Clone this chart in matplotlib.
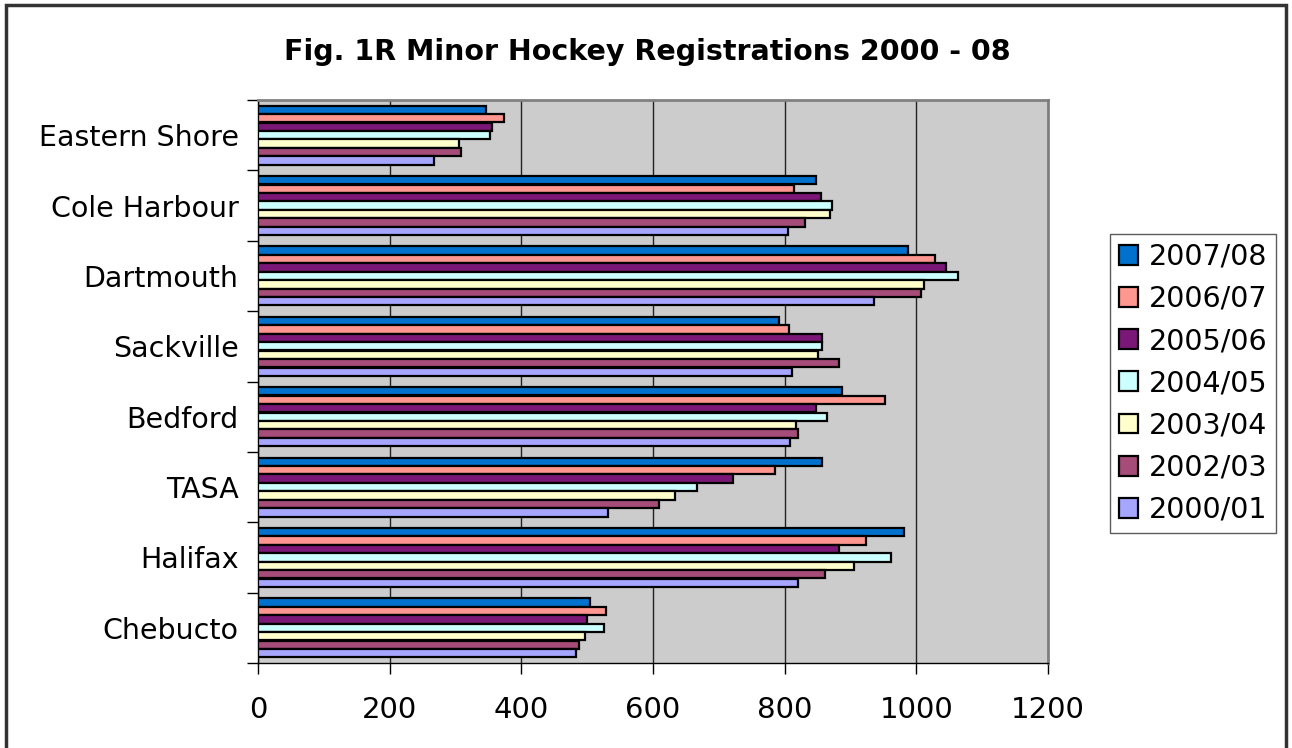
import matplotlib
matplotlib.use("Agg")
import matplotlib.pyplot as plt
import numpy as np
from matplotlib.patches import Rectangle

categories = ["Eastern Shore", "Cole Harbour", "Dartmouth", "Sackville",
              "Bedford", "TASA", "Halifax", "Chebucto"]
series = ["2007/08", "2006/07", "2005/06", "2004/05", "2003/04", "2002/03", "2000/01"]
colors = ["#0072CE", "#FF968F", "#7B1877", "#CCFFFF", "#FFFFCC", "#A64C78", "#A6A6FF"]

v2007_08 = [346, 847, 988, 791, 887, 857, 981, 505]
v2006_07 = [373, 814, 1029, 807, 953, 785, 924, 528]
v2005_06 = [355, 855, 1045, 857, 847, 721, 883, 500]
v2004_05 = [352, 872, 1063, 856, 865, 667, 962, 526]
v2003_04 = [306, 869, 1011, 850, 817, 634, 905, 497]
v2002_03 = [309, 831, 1007, 882, 820, 609, 862, 488]
v2000_01 = [268, 805, 936, 811, 808, 532, 820, 483]
values = [v2007_08, v2006_07, v2005_06, v2004_05, v2003_04, v2002_03, v2000_01]

xticks = [0, 200, 400, 600, 800, 1000, 1200]

plt.rcParams['font.family'] = ['DejaVu Sans']

fig = plt.figure(figsize=(12.92, 7.48), dpi=100)
W, H = 1292, 748
ax = fig.add_axes([258 / W, 1 - 663 / H, (1048 - 258) / W, (663 - 100) / H])
ax.set_facecolor("#CCCCCC")

n_cat = len(categories)
n_ser = len(series)
group = 0.84
bh = group / n_ser
for s in range(n_ser):
    ys = [i + 0.5 - group / 2 + bh * (s + 0.5) for i in range(n_cat)]
    ax.barh(ys, values[s], height=bh * 0.98, color=colors[s], edgecolor="black",
            linewidth=1.6, label=series[s], zorder=3)

ax.set_xlim(0, 1200)
ax.set_ylim(n_cat, 0)
ax.set_xticks(xticks)
ax.set_xticklabels([str(x) for x in xticks], fontsize=21)
ax.set_yticks(np.arange(0, n_cat + 1))
ax.set_yticklabels([])
ax.set_yticks(np.arange(n_cat) + 0.5, minor=True)
ax.set_yticklabels(categories, minor=True, fontsize=20.5)
ax.tick_params(axis="y", which="minor", length=0, pad=14)
ax.tick_params(axis="y", which="major", length=8, width=1, direction="out")
ax.tick_params(axis="x", which="major", length=8, width=1, direction="out", pad=16)

ax.xaxis.grid(True, color="#222222", linewidth=1.0, zorder=1)
ax.set_axisbelow(True)
for side in ["top", "right"]:
    ax.spines[side].set_color("#808080")
    ax.spines[side].set_linewidth(2)
for side in ["left", "bottom"]:
    ax.spines[side].set_color("black")
    ax.spines[side].set_linewidth(1)

handles, labels = ax.get_legend_handles_labels()
leg = fig.legend(handles, labels, loc="upper left",
                 bbox_to_anchor=(1110 / W, 1 - 234 / H),
                 fontsize=20.5, frameon=True, fancybox=False,
                 handlelength=0.7, handleheight=0.7, handletextpad=0.35,
                 labelspacing=0.5, borderpad=0.3, borderaxespad=0)
leg.get_frame().set_edgecolor("#333333")
leg.get_frame().set_linewidth(1)

fig.text(647 / W, 1 - 60 / H, "Fig. 1R Minor Hockey Registrations 2000 - 08",
         ha="center", va="baseline", fontsize=20.5, fontweight="bold")

fig.patches.append(Rectangle((6 / W, -0.05), (1286 - 6) / W, 1.05 - 5 / H,
                             transform=fig.transFigure, fill=False,
                             edgecolor="#333333", linewidth=2.5))

fig.savefig("out.png", dpi=100)
